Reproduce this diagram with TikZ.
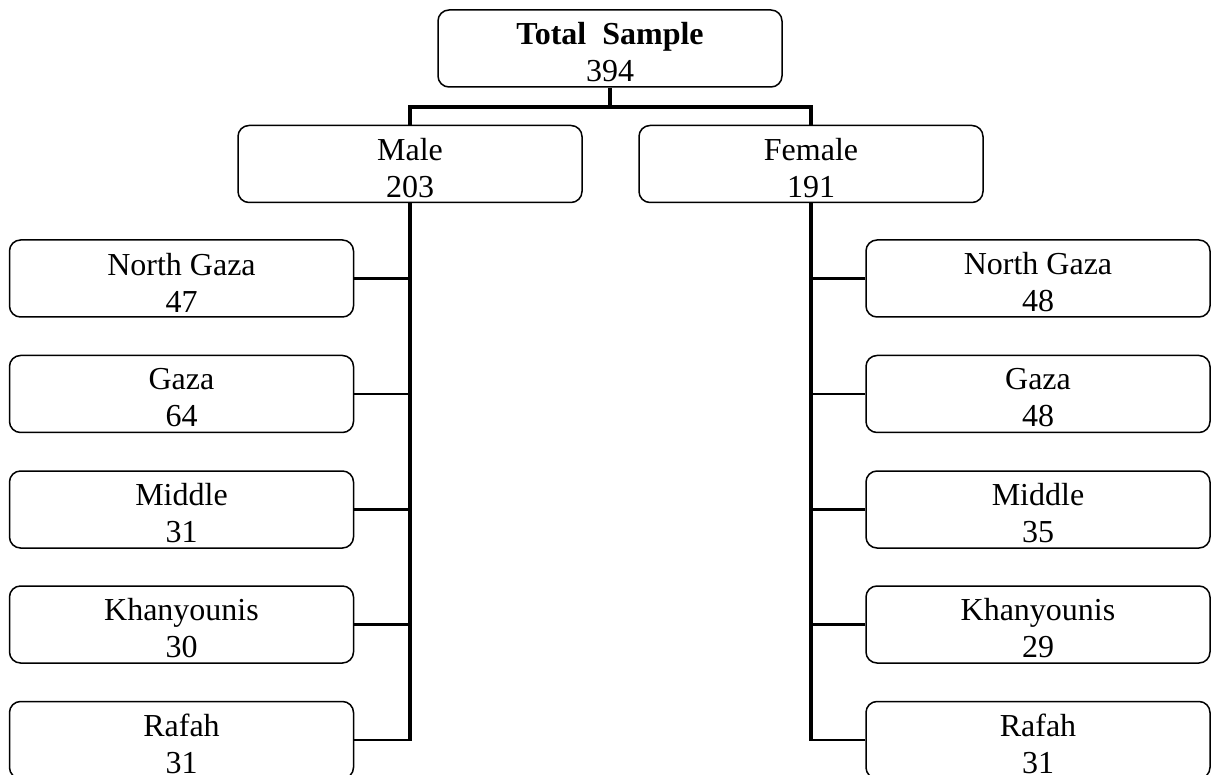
\documentclass[tikz,border=0pt]{standalone}
\usepackage{fontspec}
\setmainfont{Liberation Serif}
\begin{document}
\begin{tikzpicture}[x=1pt,y=-1pt,
  box/.style={draw=black, line width=1.5pt, rounded corners=11pt, minimum width=344pt, minimum height=77pt, inner sep=0pt},
  txt/.style={align=center, inner sep=0pt, font=\fontsize{32}{37}\selectfont},
  trunk/.style={line width=3.2pt},
  twig/.style={line width=2.4pt}]
\useasboundingbox[fill=white] (0,0) rectangle (1213,775);
\clip (0,0) rectangle (1213,775);
% top level
\node[box] (top) at (610,48.5) {};
\node[txt] (topt) at ([yshift=-4pt]top.center) {\textbf{Total\ \ Sample}\\394};
\node[box] (male) at (410,164) {};
\node[txt] (malet) at ([yshift=-4pt]male.center) {Male\\203};
\node[box] (female) at (811,164) {};
\node[txt] (femalet) at ([yshift=-4pt]female.center) {Female\\191};
\coordinate (bar) at (610,107);
\draw[trunk] (top.south) -- (bar);
\draw[trunk] (male.north) |- (bar) -| (female.north);
% left column
\foreach \n/\t/\v/\y in {l1/North Gaza/47/278.5, l2/Gaza/64/394, l3/Middle/31/509.5, l4/Khanyounis/30/624.5, l5/Rafah/31/740}{
  \node[box] (\n) at (181.5,\y) {};
  \node[txt] (\n t) at ([yshift=-4pt]\n.center) {\t\\\v};
}
% right column
\foreach \n/\t/\v/\y in {r1/North Gaza/48/278.5, r2/Gaza/48/394, r3/Middle/35/509.5, r4/Khanyounis/29/624.5, r5/Rafah/31/740}{
  \node[box] (\n) at (1038,\y) {};
  \node[txt] (\n t) at ([yshift=-4pt]\n.center) {\t\\\v};
}
\draw[trunk] (male.south) -- ([yshift=-1.2pt]male.south |- l5.east);
\draw[trunk] (female.south) -- ([yshift=-1.2pt]female.south |- r5.west);
\foreach \n in {l1,l2,l3,l4,l5}{
  \draw[twig] (\n.east) -- ([xshift=1.6pt]\n.east -| male.south);
}
\foreach \n in {r1,r2,r3,r4,r5}{
  \draw[twig] (\n.west) -- ([xshift=-1.6pt]\n.west -| female.south);
}
\end{tikzpicture}
\end{document}
